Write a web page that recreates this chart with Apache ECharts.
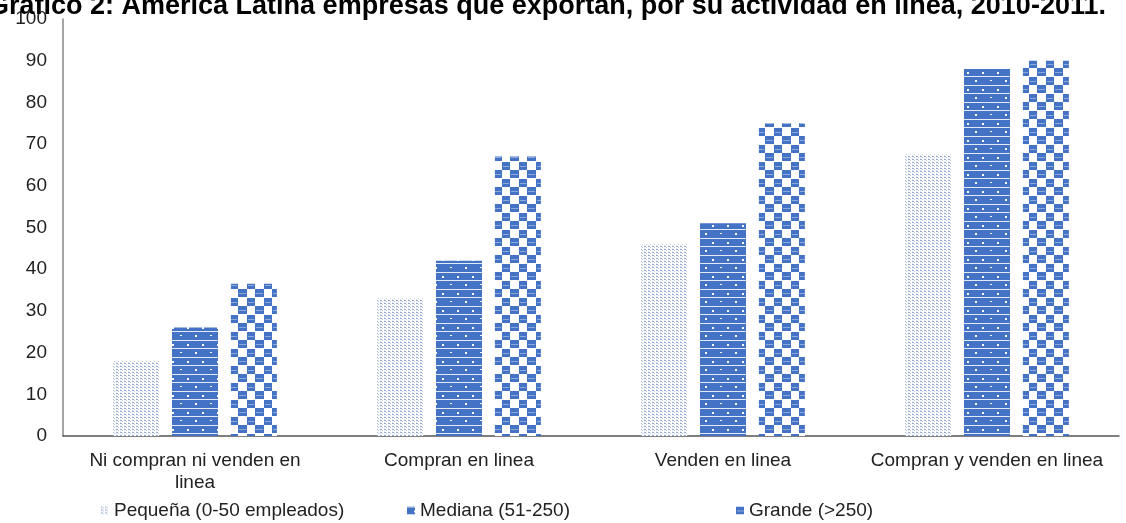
<!DOCTYPE html>
<html>
<head>
<meta charset="utf-8">
<script src="https://cdn.jsdelivr.net/npm/echarts@6/dist/echarts.min.js"></script>
<style>html,body{margin:0;padding:0;background:#fff;}#main{width:1126px;height:523px;}</style>
</head>
<body>
<div id="main"></div>
<script>
var categories = ['Ni compran ni venden en\nlinea', 'Compran en linea', 'Venden en linea', 'Compran y venden en linea'];
var seriesNames = ['Pequeña (0-50 empleados)', 'Mediana (51-250)', 'Grande (>250)'];
var pequena = [18, 33, 46, 67.5];
var mediana = [26, 42, 51, 88];
var grande = [36.5, 67, 75, 90];
var yTicks = [0, 10, 20, 30, 40, 50, 60, 70, 80, 90, 100];
var titleText = 'Gráfico 2: América Latina empresas que exportan, por su actividad en línea, 2010-2011.';

var BLUE = '#4472c4';
function tile(w, h, draw) {
  var c = document.createElement('canvas');
  c.width = w; c.height = h;
  var g = c.getContext('2d');
  draw(g);
  return c;
}
var patSmall = tile(4, 3, function (g) {
  g.fillStyle = '#ffffff'; g.fillRect(0, 0, 4, 3);
  g.fillStyle = '#93aad3'; g.fillRect(0, 0, 2, 1);
  g.fillStyle = '#b9c9e4'; g.fillRect(2, 1, 1, 1);
  g.fillStyle = '#dde5f2'; g.fillRect(0, 2, 1, 1);
});
var patMed = tile(30, 17, function (g) {
  g.fillStyle = BLUE; g.fillRect(0, 0, 30, 17);
  g.fillStyle = 'rgba(255,255,255,0.85)';
  g.fillRect(0, 0, 30, 1);
  g.fillRect(0, 8, 30, 1);
  g.fillStyle = '#ffffff';
  g.fillRect(7, 4, 2, 2); g.fillRect(22, 4, 2, 2);
  g.fillRect(15, 12, 2, 2); g.fillRect(0, 12, 2, 1);
});
var patBig = tile(17, 17, function (g) {
  g.fillStyle = '#ffffff'; g.fillRect(0, 0, 17, 17);
  g.fillStyle = BLUE;
  g.fillRect(0, 0, 9, 8);
  g.fillRect(9, 9, 8, 8);
  g.fillStyle = '#8eaadb';
  g.fillRect(1, 4, 7, 1);
  g.fillRect(10, 13, 6, 1);
});

var chart = echarts.init(document.getElementById('main'));
var FONT = 'Liberation Sans, Arial, sans-serif';
var lbl = { fontFamily: FONT, fontSize: 19, color: '#222' };
function mk(name, data, pat) {
  return {
    name: name, type: 'bar', data: data, barWidth: 46, barGap: '28%',
    itemStyle: { color: { image: pat, repeat: 'repeat' } }
  };
}
function lg(name, left) {
  return {
    data: [name], left: left, top: 496, itemWidth: 8, itemHeight: 8, itemGap: 4,
    icon: 'rect', textStyle: lbl, selectedMode: false
  };
}
chart.setOption({
  animation: false,
  title: {
    text: titleText, left: -17, top: -12,
    textStyle: { fontFamily: FONT, fontSize: 27, fontWeight: 'bold', color: '#000' }
  },
  legend: [lg(seriesNames[0], 96), lg(seriesNames[1], 402), lg(seriesNames[2], 731)],
  grid: { left: 63, right: 7, top: 19, bottom: 87 },
  xAxis: {
    type: 'category', data: categories,
    axisLine: { lineStyle: { color: '#555', width: 1.5 } },
    axisTick: { show: false },
    axisLabel: { fontFamily: FONT, fontSize: 19, color: '#222', lineHeight: 22, margin: 14, interval: 0 }
  },
  yAxis: {
    type: 'value', min: 0, max: 100, interval: 10,
    axisLine: { show: true, lineStyle: { color: '#888', width: 1.5 } },
    axisTick: { show: false },
    splitLine: { show: false },
    axisLabel: { fontFamily: FONT, fontSize: 19, color: '#222', margin: 16,
      formatter: function (v) { return yTicks.indexOf(v) >= 0 ? String(v) : ''; } }
  },
  series: [mk(seriesNames[0], pequena, patSmall), mk(seriesNames[1], mediana, patMed), mk(seriesNames[2], grande, patBig)]
});
</script>
</body>
</html>
